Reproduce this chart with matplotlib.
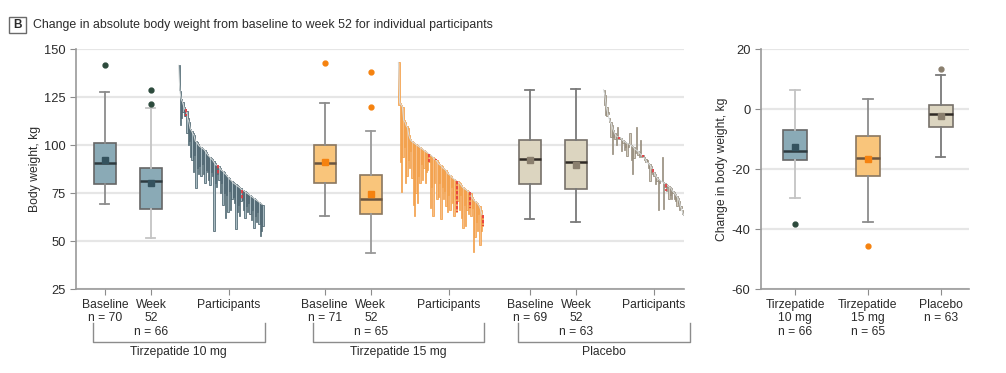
import numpy as np
import matplotlib.pyplot as plt
from matplotlib.patches import Rectangle

plt.rcParams['font.family'] = ['Liberation Sans', 'DejaVu Sans']

# box summaries (kg)
groups = ['Tirzepatide 10 mg', 'Tirzepatide 15 mg', 'Placebo']
n_base = [70, 71, 69]
n_wk52 = [66, 65, 63]

base_stats = [  # med, q1, q3, whislo, whishi, mean, fliers
    (90.5, 79.9, 101.2, 69.3, 127.5, 92.1, [141.8]),
    (90.7, 80.4, 100.0, 63.2, 121.7, 91.2, [142.8]),
    (92.9, 79.9, 102.7, 61.6, 128.4, 92.1, []),
]
wk52_stats = [
    (81.1, 66.5, 88.1, 51.7, 119.1, 80.0, [128.7, 121.4]),
    (71.9, 63.9, 84.4, 43.8, 107.1, 74.3, [138.1, 120.0]),
    (90.9, 76.9, 102.4, 59.8, 129.4, 89.6, []),
]
change_stats = [
    (-13.9, -17.1, -7.1, -29.8, 6.5, -12.7, [-38.3]),
    (-16.2, -22.4, -8.9, -37.5, 3.5, -16.7, [-45.6]),
    (-1.5, -6.1, 1.2, -16.1, 11.3, -2.3, [13.3]),
]

# individual participants, sorted by baseline weight
t10_base = [141.5, 128.0, 124.0, 122.5, 120.0, 118.5, 117.5, 114.0, 112.0, 108.5,
            107.5, 106.0, 105.0, 102.0, 101.5, 100.5, 99.5, 99.0, 98.5, 98.0,
            97.5, 96.5, 95.5, 94.5, 94.0, 93.0, 92.5, 91.5, 90.5, 89.5,
            89.5, 89.0, 88.0, 87.0, 86.5, 86.0, 85.0, 84.5, 83.5, 83.0,
            82.0, 81.5, 80.5, 80.0, 79.5, 79.0, 78.5, 78.0, 77.5, 76.5,
            76.5, 76.0, 75.5, 75.0, 74.5, 74.0, 73.5, 73.0, 72.5, 72.0,
            71.5, 71.0, 70.5, 70.0, 69.5, 69.0]
t10_wk52 = [128.8, 110.6, 114.0, 117.0, 115.0, 115.0, 106.0, 100.0, 102.0, 94.0,
            92.0, 86.0, 95.0, 77.6, 88.0, 85.0, 89.0, 84.0, 90.0, 85.0,
            80.0, 87.0, 86.0, 82.0, 79.0, 86.0, 84.0, 55.0, 80.0, 78.0,
            85.0, 82.0, 75.0, 80.0, 69.0, 75.0, 62.0, 74.0, 65.0, 76.0,
            66.0, 72.0, 73.0, 70.0, 56.0, 65.0, 69.0, 63.0, 71.0, 71.5,
            66.0, 62.0, 68.0, 65.0, 70.0, 64.0, 61.0, 66.0, 57.0, 63.0,
            60.0, 65.0, 59.0, 52.5, 55.0, 58.0]
t10_red = [5, 30, 49]

t15_base = [143.0, 122.0, 121.0, 120.0, 113.0, 112.0, 110.0, 109.0, 105.0, 103.0,
            102.0, 101.5, 101.0, 100.5, 100.0, 99.5, 99.0, 98.5, 98.0, 97.5,
            97.0, 96.5, 96.0, 95.5, 95.0, 94.5, 94.0, 93.0, 92.5, 92.0,
            91.0, 90.0, 89.5, 89.0, 88.0, 87.5, 87.0, 86.0, 85.0, 84.5,
            84.0, 83.0, 82.5, 82.0, 81.5, 81.0, 80.5, 80.0, 79.0, 78.0,
            77.5, 77.0, 76.5, 76.0, 75.5, 75.0, 73.0, 72.0, 71.0, 70.5,
            70.0, 69.0, 68.0, 66.0, 63.5]
t15_wk52 = [121.0, 91.0, 75.5, 94.0, 99.0, 80.0, 84.0, 92.0, 88.0, 97.0,
            83.0, 69.0, 63.0, 75.0, 70.0, 84.0, 80.0, 90.0, 82.0, 88.0,
            80.0, 86.0, 87.0, 91.0, 67.0, 78.0, 63.0, 80.0, 92.0, 72.0,
            73.0, 80.0, 61.5, 78.0, 72.0, 76.0, 68.0, 65.0, 74.0, 66.0,
            78.0, 70.0, 63.0, 72.0, 65.0, 71.0, 66.0, 74.0, 62.0, 57.0,
            69.0, 58.0, 66.0, 64.0, 67.0, 63.0, 67.0, 44.3, 52.0, 60.0,
            55.0, 64.0, 48.0, 55.0, 58.0]
t15_red = [23, 28, 44, 54, 64]

pbo_base = [128.8, 126.0, 120.0, 117.0, 114.0, 112.0, 110.5, 108.0, 106.5, 105.0,
            104.5, 104.0, 103.8, 103.5, 102.5, 102.0, 101.5, 101.0, 100.8, 100.5,
            100.0, 99.5, 99.0, 98.0, 97.5, 97.0, 96.5, 95.5, 95.0, 94.0,
            93.5, 92.5, 91.0, 90.5, 90.0, 89.0, 87.5, 86.0, 85.0, 83.5,
            82.5, 82.0, 81.5, 81.0, 80.5, 80.0, 79.5, 79.0, 78.5, 78.0,
            77.5, 76.0, 75.5, 74.5, 73.5, 72.5, 71.0, 68.0, 66.0, 64.0,
            63.0, 61.5, 60.5]
pbo_wk52 = [121.0, 115.5, 115.0, 116.0, 112.0, 104.0, 95.5, 104.0, 103.0, 100.0,
            109.5, 103.0, 103.0, 97.0, 101.0, 97.5, 99.0, 94.5, 99.0, 106.0,
            92.0, 85.0, 93.0, 96.0, 109.5, 95.0, 94.0, 102.5, 94.0, 95.0,
            92.0, 91.0, 92.0, 88.0, 81.5, 86.0, 85.0, 84.0, 79.5, 81.0,
            66.0, 80.0, 81.0, 93.8, 66.5, 78.0, 76.0, 78.0, 72.0, 74.0,
            72.0, 75.0, 72.0, 71.0, 68.0, 70.0, 66.0, 67.0, 64.0, 63.5,
            61.5, 61.0, 60.0]
pbo_red = [11, 29, 36, 46]

# styling per group
fills = ['#8aaab6', '#f9c57b', '#dcd5c0']
edges = ['#666666', '#8a7760', '#77716a']
medians = ['#2e3b40', '#6a5540', '#2f2a25']
means = ['#34525e', '#f5820f', '#8a7f6e']
fliers = ['#2c4a3c', '#f5820f', '#8a7f6e']
wf_dark = ['#3f5863', '#f29a3e', '#8c8272']
wf_light = ['#a9bbc2', '#f8bf86', '#d2cbbd']
whisk_b = ['#8c8c8c', '#8c8c8c', '#7a7a7a']
whisk_w = ['#c4c4c4', '#999999', '#7a7a7a']

offsets = [0, 4.78, 9.24]
grid_c = '#e6e6e6'
txt_c = '#2b2b2b'
FS = 8.7

fig = plt.figure(figsize=(10.06, 3.73), dpi=100)
ax = fig.add_axes([76/1006, 1-289/373, (684-76)/1006, 240/373])
ax2 = fig.add_axes([761/1006, 1-289/373, (969-761)/1006, 240/373])


def draw_box(a, st, pos, w, i, wcol):
    med, q1, q3, lo, hi, mn, fl = st
    a.bxp([dict(med=med, q1=q1, q3=q3, whislo=lo, whishi=hi, mean=mn, fliers=fl)],
          positions=[pos], widths=w, capwidths=w*0.4, patch_artist=True, showmeans=True,
          manage_ticks=False,
          boxprops=dict(facecolor=fills[i], edgecolor=edges[i], lw=1.2),
          medianprops=dict(color=medians[i], lw=1.8),
          meanprops=dict(marker='s', markerfacecolor=means[i], markeredgecolor=means[i], markersize=5),
          flierprops=dict(marker='o', markerfacecolor=fliers[i], markeredgecolor=fliers[i], markersize=3.5),
          whiskerprops=dict(color=wcol, lw=1.3), capprops=dict(color=wcol, lw=1.3))


wf = [(t10_base, t10_wk52, t10_red), (t15_base, t15_wk52, t15_red), (pbo_base, pbo_wk52, pbo_red)]

for i, off in enumerate(offsets):
    draw_box(ax, base_stats[i], off, 0.49, i, whisk_b[i])
    draw_box(ax, wk52_stats[i], off + 1, 0.49, i, whisk_w[i])
    b, w, red = [np.array(v) for v in wf[i]]
    xs = off + np.linspace(1.6, 3.42, len(b))
    dx = xs[1] - xs[0]
    ax.bar(xs, w - b, bottom=b, width=dx, color=wf_light[i], edgecolor=wf_dark[i],
           linewidth=0.5, align='edge', zorder=3)
    ax.plot(xs, b, color='#d8dcdc', lw=0.7, zorder=4)
    red = np.array(red, dtype=int)
    ax.vlines(xs[red] + dx/2, b[red], w[red], colors='#e8343a', linestyles=(0, (2, 1)),
              lw=1.2, zorder=5)

ax.set_xlim(-0.63, 12.59)
ax.set_ylim(25, 150)
ax.set_yticks([25, 50, 75, 100, 125, 150])
ticks, labels = [], []
for i, off in enumerate(offsets):
    ticks += [off, off + 1, off + 2.7]
    labels += [f'Baseline\nn = {n_base[i]}', f'Week\n52\nn = {n_wk52[i]}', 'Participants']
ax.set_xticks(ticks)
ax.set_xticklabels(labels, linespacing=1.12)
ax.set_ylabel('Body weight, kg', fontsize=FS, color=txt_c)
ax.yaxis.set_label_coords((41-76)/608, 0.5)

# group brackets
tr = ax.get_xaxis_transform()
for i, off in enumerate(offsets):
    x0, x1 = off - 0.26, off + 3.47
    ax.plot([x0, x0, x1, x1], [-0.142, -0.221, -0.221, -0.142], color='#8c8c8c', lw=1,
            transform=tr, clip_on=False)
    ax.text((x0 + x1) / 2, -0.262, groups[i], transform=tr, ha='center', va='center',
            fontsize=FS, color=txt_c)

# change panel
for i in range(3):
    draw_box(ax2, change_stats[i], i, 0.33, i, [whisk_w[0], whisk_b[1], whisk_b[2]][i])
ax2.set_xlim(-0.467, 2.39)
ax2.set_ylim(-60, 20)
ax2.set_yticks([-60, -40, -20, 0, 20])
ax2.set_yticklabels(['-60', '-40', '-20', '0', '20'])
ax2.set_xticks([0, 1, 2])
ax2.set_xticklabels([f'Tirzepatide\n10 mg\nn = {n_wk52[0]}', f'Tirzepatide\n15 mg\nn = {n_wk52[1]}',
                     f'Placebo\nn = {n_wk52[2]}'], linespacing=1.12)
ax2.set_ylabel('Change in body weight, kg', fontsize=FS, color=txt_c)
ax2.yaxis.set_label_coords((728-761)/208, 0.5)

for a in (ax, ax2):
    for s in ('top', 'right'):
        a.spines[s].set_visible(False)
    for s in ('left', 'bottom'):
        a.spines[s].set_color('#9a9a9a')
        a.spines[s].set_linewidth(1.2)
    a.tick_params(colors='#8c8c8c', labelcolor=txt_c, labelsize=FS, length=4)
    a.tick_params(axis='y', labelsize=9.3)
    a.grid(axis='y', color=grid_c, lw=1.6)
    a.set_axisbelow(True)

# panel title
fig.patches.append(Rectangle((8.5/1006, 1-33/373), 17.5/1006, 15.5/373, transform=fig.transFigure,
                             fill=False, edgecolor='#6a6a6a', lw=1))
fig.text(17.2/1006, 1-25.3/373, 'B', ha='center', va='center', fontsize=8.5, weight='bold', color=txt_c)
fig.text(33/1006, 1-25.3/373, 'Change in absolute body weight from baseline to week 52 for individual participants',
         ha='left', va='center', fontsize=8.9, color=txt_c)

fig.savefig('out.png', dpi=100)
